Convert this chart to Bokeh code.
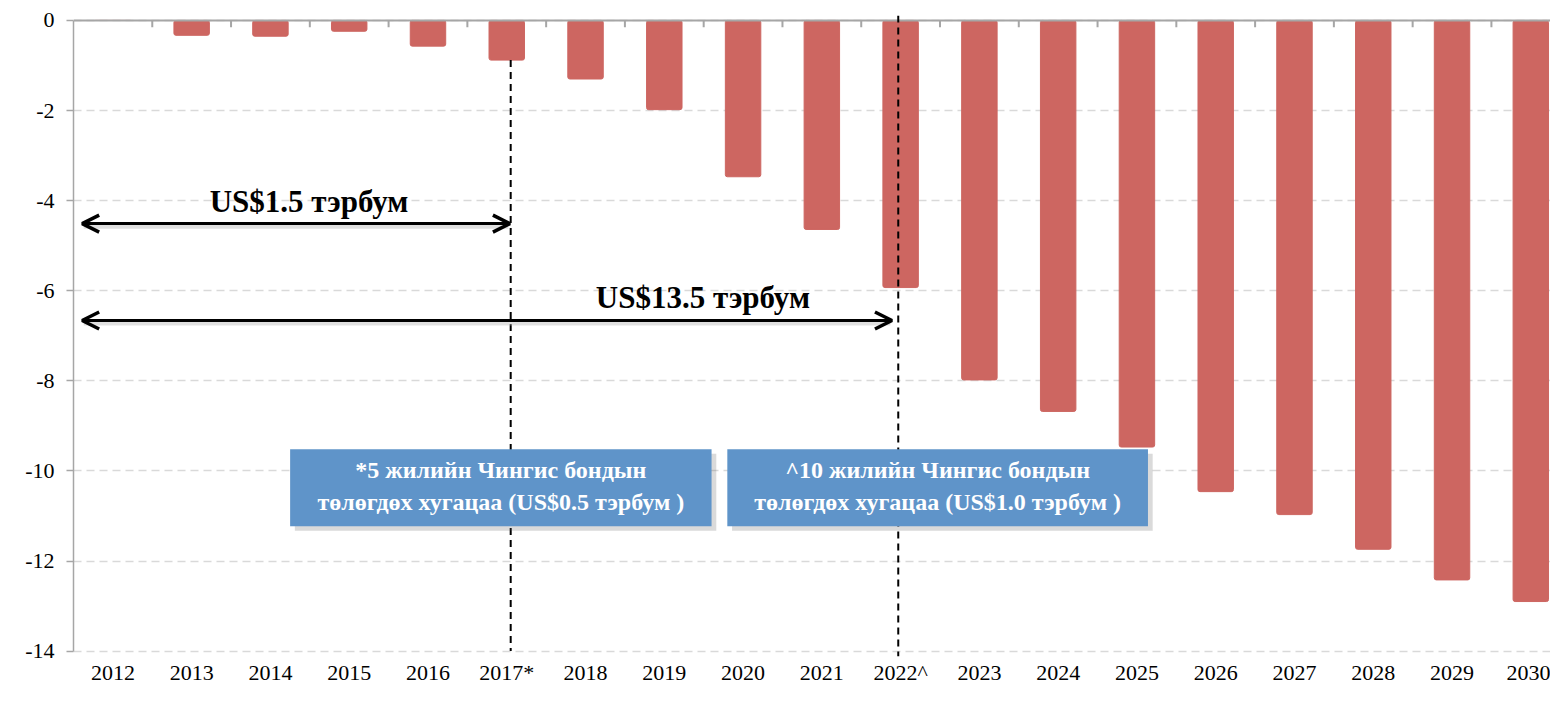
from bokeh.plotting import figure
from bokeh.models import (ColumnDataSource, Range1d, FixedTicker, Arrow, OpenHead)
from bokeh.core.properties import value
from bokeh.embed import file_html
from bokeh.resources import INLINE

# ---- data ----
years = ["2012", "2013", "2014", "2015", "2016", "2017*", "2018", "2019", "2020",
         "2021", "2022^", "2023", "2024", "2025", "2026", "2027", "2028", "2029", "2030"]
payments = [0.0, -0.33, -0.35, -0.24, -0.57, -0.88, -1.30, -1.98, -3.47,
            -4.64, -5.93, -7.98, -8.68, -9.47, -10.46, -10.97, -11.74, -12.42, -12.90]
y_ticks = [0, -2, -4, -6, -8, -10, -12, -14]
y_tick_labels = ["0", "-2", "-4", "-6", "-8", "-10", "-12", "-14"]
arrow_labels = ["US$1.5 тэрбум", "US$13.5 тэрбум"]
box1_lines = ["*5 жилийн Чингис бондын", "төлөгдөх хугацаа (US$0.5 тэрбум )"]
box2_lines = ["^10 жилийн Чингис бондын", "төлөгдөх хугацаа (US$1.0 тэрбум )"]

SERIF = value("Liberation Serif")
BAR = "#CD6661"
BLUE = "#5F94C9"
GRAY = "#A6A6A6"

xs = list(range(len(years)))
src = ColumnDataSource(dict(x=xs, top=payments, year=years))

p = figure(width=1550, height=687, output_backend="svg", toolbar_location=None,
           x_range=Range1d(-0.5, 18.25), y_range=Range1d(-14.12, 0.11),
           min_border_left=73, min_border_right=0, min_border_top=15, min_border_bottom=30)
p.outline_line_color = None
p.background_fill_color = "white"
p.border_fill_color = "white"

# grid
p.xgrid.visible = False
p.ygrid.ticker = FixedTicker(ticks=y_ticks)
p.ygrid.grid_line_color = "#D9D9D9"
p.ygrid.grid_line_dash = "8 5"
p.ygrid.grid_line_width = 1.5

# bars
p.vbar(x="x", top="top", bottom=0, width=0.45, source=src,
       fill_color=BAR, line_color=BAR, border_radius=2)

# top axis line at y=0 with category boundary ticks
n = len(years)
p.segment(x0=[-0.5], y0=[0], x1=[n - 0.5], y1=[0], line_color=GRAY, line_width=2)
bounds = [i + 0.5 for i in range(n - 1)]
p.segment(x0=bounds, y0=[0] * len(bounds), x1=bounds, y1=[-0.15] * len(bounds),
          line_color=GRAY, line_width=2)

# y axis
ya = p.yaxis[0]
ya.ticker = FixedTicker(ticks=y_ticks)
ya.major_label_overrides = dict(zip(y_ticks, y_tick_labels))
ya.bounds = (-14, 0)
ya.axis_line_color = GRAY
ya.axis_line_width = 1.5
ya.major_tick_line_color = GRAY
ya.major_tick_line_width = 1.5
ya.major_tick_out = 7
ya.major_tick_in = 0
ya.minor_tick_line_color = None
ya.major_label_standoff = 12
ya.major_label_text_font = "Liberation Serif"
ya.major_label_text_font_size = "22px"
ya.major_label_text_color = "black"

# x axis (labels only)
xa = p.xaxis[0]
xa.ticker = FixedTicker(ticks=xs)
xa.major_label_overrides = {i: y for i, y in enumerate(years)}
xa.axis_line_color = None
xa.major_tick_line_color = None
xa.major_tick_out = 0
xa.major_tick_in = 0
xa.minor_tick_line_color = None
xa.major_label_standoff = 3
xa.major_label_text_font = "Liberation Serif"
xa.major_label_text_font_size = "22px"
xa.major_label_text_color = "black"

# vertical dashed marker lines
i17 = years.index("2017*")
i22 = years.index("2022^")
p.segment(x0=[i17 + 0.05, i22 - 0.03], y0=[payments[i17], 0.11],
          x1=[i17 + 0.05, i22 - 0.03], y1=[-14, -14.12],
          line_color="black", line_width=2, line_dash="7 5")

# arrows (with soft shadow)
for (xe, yv) in [(i17 + 0.04, -4.51), (9.89, -6.66)]:
    p.segment(x0=[-0.37], y0=[yv - 0.07], x1=[xe - 0.02], y1=[yv - 0.07],
              line_color="#BBBBBB", line_width=4, line_alpha=0.45)
    p.add_layout(Arrow(start=OpenHead(size=17, line_width=3.5, line_color="black"),
                       end=OpenHead(size=17, line_width=3.5, line_color="black"),
                       x_start=-0.39, y_start=yv, x_end=xe, y_end=yv,
                       line_width=3, line_color="black"))

p.text(x=[2.49, 7.49], y=[-4.03, -6.15], text=arrow_labels,
       text_font=SERIF, text_font_style="bold", text_font_size="31px",
       text_color="black", text_align="center", text_baseline="middle")

# annotation boxes
boxes = [(2.25, 7.60, box1_lines), (7.80, 13.14, box2_lines)]
for (l, r, lines) in boxes:
    p.quad(left=[l + 0.06], right=[r + 0.06], top=[-9.52 - 0.1], bottom=[-11.23 - 0.1],
           fill_color="#555555", fill_alpha=0.22, line_color=None)
    p.quad(left=[l], right=[r], top=[-9.52], bottom=[-11.23],
           fill_color=BLUE, line_color=None)
    cx = (l + r) / 2
    p.text(x=[cx, cx], y=[-9.97, -10.69], text=lines,
           text_font=SERIF, text_font_style="bold", text_font_size="24px",
           text_color="white", text_align="center", text_baseline="middle")

open("out.html", "w").write(file_html(p, INLINE))
